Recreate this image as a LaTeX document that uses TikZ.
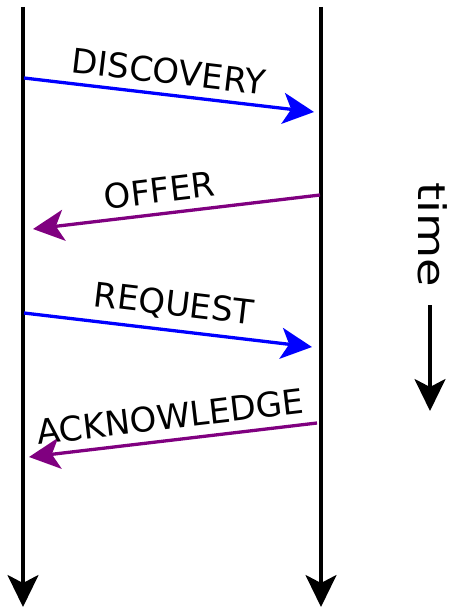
\documentclass[tikz,border=0pt]{standalone}
\usepackage{fontspec}
\setmainfont{DejaVu Sans}
\usetikzlibrary{arrows.meta}
\definecolor{msgblue}{RGB}{0,0,255}
\definecolor{msgpurple}{RGB}{128,0,128}
\tikzset{
  lifeline/.style={line width=3.3pt, -{Stealth[length=32pt,width=31pt,inset=8pt]}},
  msg/.style={line width=3.3pt, -{Stealth[length=31pt,width=31pt,inset=8pt]}},
  msglabel/.style={font=\fontsize{34}{40}\selectfont, sloped, above=9pt, inner sep=0pt}
}
\begin{document}
\begin{tikzpicture}[x=1pt,y=-1pt]
  \useasboundingbox (0,0) rectangle (454,607);
  % lifelines
  \coordinate (Ltop) at (23,7);
  \coordinate (Lbot) at (23,607);
  \coordinate (Rtop) at (321,7);
  \coordinate (Rbot) at (321,607);
  \draw[lifeline] (Ltop) -- (Lbot);
  \draw[lifeline] (Rtop) -- (Rbot);
  % message end points
  \coordinate (d1) at (24,78);  \coordinate (d2) at (314,112);
  \coordinate (o1) at (320,195); \coordinate (o2) at (33,229);
  \coordinate (r1) at (24,313); \coordinate (r2) at (312,347);
  \coordinate (a1) at (317,423); \coordinate (a2) at (29,457);
  \draw[msg, msgblue] (d1) -- node[msglabel, text=black, pos=0.49] {DISCOVERY} (d2);
  \draw[msg, msgpurple] (o1) -- node[msglabel, text=black, pos=0.55] {OFFER} (o2);
  \draw[msg, msgblue] (r1) -- node[msglabel, text=black, pos=0.51] {REQUEST} (r2);
  \draw[msg, msgpurple] (a1) -- node[msglabel, text=black, pos=0.5] {ACKNOWLEDGE} (a2);
  % time
  \node[font=\fontsize{38}{44}\selectfont, rotate=-90, anchor=base, inner sep=0pt] (time) at (418,235) {\scalebox{1.22}[1]{time}};
  \coordinate (t1) at (430,305);
  \coordinate (t2) at (430,411);
  \draw[lifeline] (t1) -- (t2);
\end{tikzpicture}
\end{document}
